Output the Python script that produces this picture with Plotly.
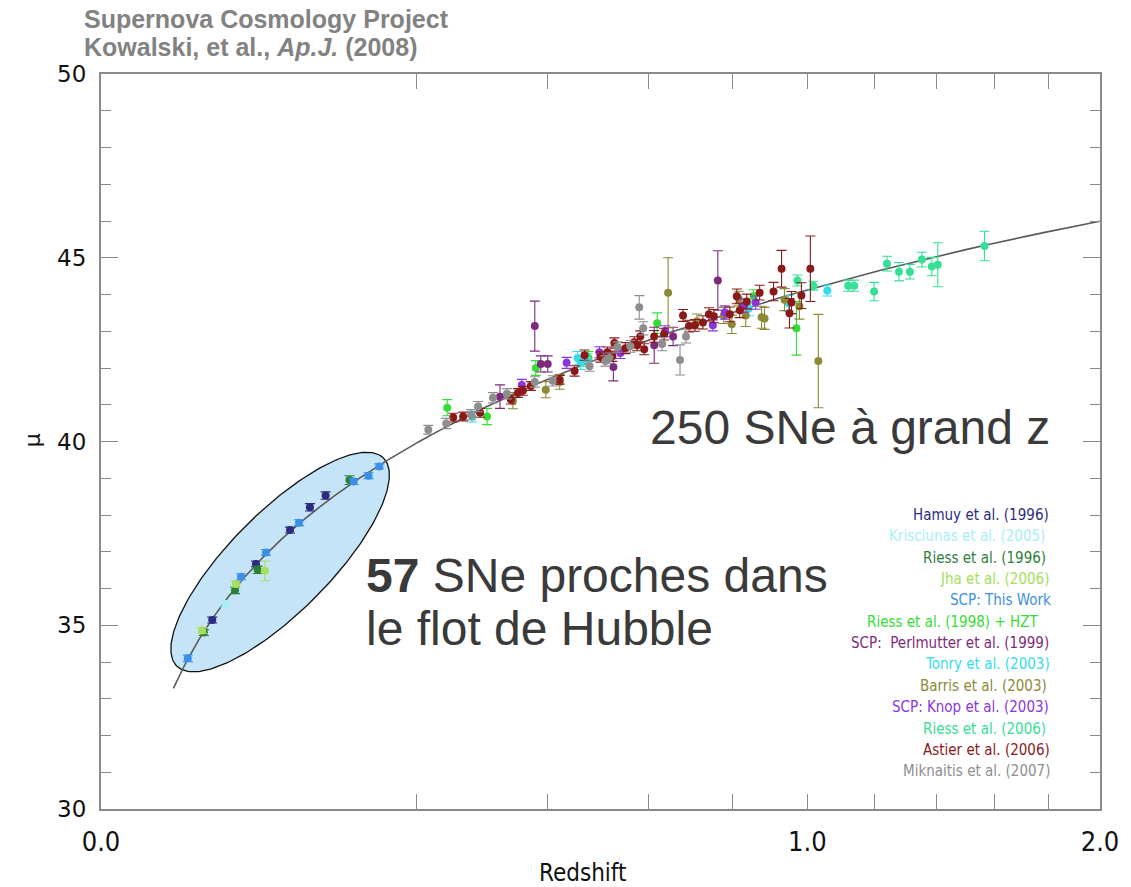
import numpy as np
import plotly.graph_objects as go

# ---------------- Supernova samples: redshift, distance modulus, error ----------------
hamuy_z = [0.0248, 0.0481, 0.0716, 0.0875, 0.1011]
hamuy_mu = [35.14, 36.67, 37.59, 38.21, 38.53]
hamuy_err = [0.08, 0.08, 0.08, 0.10, 0.10]

krisciunas_z = [0.0310]
krisciunas_mu = [35.58]
krisciunas_err = [0.08]

riess96_z = [0.0212, 0.0360, 0.0491, 0.1237]
riess96_mu = [34.80, 35.95, 36.51, 38.95]
riess96_err = [0.08, 0.09, 0.10, 0.12]

jha_z = [0.0205, 0.0365, 0.0538]
jha_mu = [34.86, 36.12, 36.48]
jha_err = [0.08, 0.08, 0.27]

scp_z = [0.0151, 0.0393, 0.0545, 0.0786, 0.1280, 0.1435, 0.1552]
scp_mu = [34.10, 36.32, 36.98, 37.79, 38.91, 39.07, 39.32]
scp_err = [0.09, 0.08, 0.08, 0.08, 0.08, 0.08, 0.07]

riess98_z = [0.2402, 0.2987, 0.3788, 0.4763, 0.6199, 0.8536, 0.9692]
riess98_mu = [40.92, 40.68, 42.00, 42.27, 43.22, 43.95, 43.08]
riess98_err = [0.22, 0.22, 0.20, 0.18, 0.28, 0.18, 0.73]

perlmutter_z = [0.3190, 0.3771, 0.3876, 0.3999, 0.5261, 0.6133, 0.6559, 0.7625]
perlmutter_mu = [41.22, 43.14, 42.11, 42.11, 42.03, 42.62, 42.86, 44.38]
perlmutter_err = [0.32, 0.68, 0.22, 0.22, 0.38, 0.49, 0.25, 0.81]

tonry_z = [0.2760, 0.4551, 0.4609, 0.4743, 0.8407, 0.9472, 1.0572]
tonry_mu = [40.68, 42.27, 42.14, 42.22, 43.62, 43.76, 44.11]
tonry_err = [0.15, 0.18, 0.18, 0.18, 0.20, 0.22, 0.15]

barris_z = [0.3400, 0.3964, 0.4216, 0.6445, 0.7118, 0.7774, 0.7974, 0.8150,
            0.8330, 0.8746, 0.8825, 0.9362, 0.9775, 1.0312]
barris_mu = [41.11, 41.41, 41.62, 44.05, 43.27, 43.43, 43.19, 43.89,
             43.43, 43.38, 43.35, 43.86, 43.68, 42.19]
barris_err = [0.22, 0.22, 0.20, 0.95, 0.20, 0.22, 0.25, 0.20,
              0.30, 0.30, 0.30, 0.30, 0.35, 1.27]

knop_z = [0.3549, 0.4345, 0.4979, 0.5406, 0.6377, 0.7503, 0.7799, 0.8279, 0.8590]
knop_mu = [41.54, 42.14, 42.43, 42.41, 43.00, 43.16, 43.51, 43.70, 43.78]
knop_err = [0.15, 0.15, 0.15, 0.15, 0.15, 0.15, 0.18, 0.18, 0.18]

riess06_z = [0.9720, 1.0170, 1.1188, 1.1368, 1.1977, 1.2381, 1.2760, 1.3113,
             1.3502, 1.3832, 1.4031, 1.5643]
riess06_mu = [44.38, 44.24, 44.24, 44.24, 44.08, 44.84, 44.62, 44.62,
              44.95, 44.76, 44.81, 45.32]
riess06_err = [0.15, 0.12, 0.15, 0.15, 0.25, 0.20, 0.25, 0.20,
               0.20, 0.25, 0.60, 0.40]

astier_z = [0.2486, 0.2628, 0.2880, 0.3367, 0.3483, 0.3566, 0.3702, 0.4216,
            0.4495, 0.4685, 0.4999, 0.5139, 0.5241, 0.5282, 0.5510, 0.5699,
            0.5763, 0.5828, 0.5914, 0.6133, 0.6355, 0.6789, 0.6929, 0.7070,
            0.7261, 0.7406, 0.7527, 0.7923, 0.8100, 0.8176, 0.8356, 0.8694,
            0.9065, 0.9282, 0.9499, 0.9555, 0.9831, 1.0084]
astier_mu = [40.65, 40.68, 40.78, 41.14, 41.32, 41.38, 41.51, 41.68,
             41.92, 42.35, 42.30, 42.43, 42.32, 42.68, 42.54, 42.70,
             42.62, 42.86, 42.51, 42.86, 42.92, 43.43, 43.14, 43.16,
             43.24, 43.46, 43.41, 43.46, 43.95, 43.57, 43.81, 44.05,
             44.08, 44.70, 43.49, 43.78, 43.97, 44.70]
astier_err = [0.12, 0.12, 0.12, 0.12, 0.12, 0.12, 0.12, 0.12,
              0.14, 0.14, 0.14, 0.14, 0.14, 0.14, 0.15, 0.15,
              0.15, 0.15, 0.15, 0.16, 0.16, 0.16, 0.16, 0.16,
              0.18, 0.18, 0.18, 0.20, 0.20, 0.20, 0.20, 0.20,
              0.25, 0.50, 0.40, 0.30, 0.35, 0.89]

miknaitis_z = [0.2147, 0.2389, 0.2745, 0.2849, 0.3079, 0.3302, 0.3771, 0.4089,
               0.4782, 0.5099, 0.5180, 0.5344, 0.5615, 0.5806, 0.5892, 0.6310,
               0.6719, 0.6859]
miknaitis_mu = [40.32, 40.49, 40.73, 40.95, 41.19, 41.30, 41.62, 41.65,
                42.05, 42.19, 42.27, 42.57, 42.59, 43.65, 43.08, 42.65,
                42.22, 42.86]
miknaitis_err = [0.12, 0.14, 0.14, 0.14, 0.14, 0.14, 0.14, 0.14,
                 0.14, 0.14, 0.14, 0.14, 0.16, 0.32, 0.18, 0.18,
                 0.41, 0.18]

legend_labels = [
    "Hamuy et al. (1996)", "Krisciunas et al. (2005)", "Riess et al. (1996)",
    "Jha et al. (2006)", "SCP: This Work", "Riess et al. (1998) + HZT",
    "SCP:  Perlmutter et al. (1999)", "Tonry et al. (2003)", "Barris et al. (2003)",
    "SCP: Knop et al. (2003)", "Riess et al. (2006)", "Astier et al. (2006)",
    "Miknaitis et al. (2007)",
]
legend_colors = [
    "#2b2b80", "#a8eef6", "#2e7d3a", "#a4e05a", "#3a90e6", "#35dd35",
    "#7d2a7d", "#35dcec", "#8c8a36", "#8a35de", "#35e096", "#8a1a1a", "#8e8e8e",
]

samples = [
    (hamuy_z, hamuy_mu, hamuy_err),
    (krisciunas_z, krisciunas_mu, krisciunas_err),
    (riess96_z, riess96_mu, riess96_err),
    (jha_z, jha_mu, jha_err),
    (scp_z, scp_mu, scp_err),
    (riess98_z, riess98_mu, riess98_err),
    (perlmutter_z, perlmutter_mu, perlmutter_err),
    (tonry_z, tonry_mu, tonry_err),
    (barris_z, barris_mu, barris_err),
    (knop_z, knop_mu, knop_err),
    (riess06_z, riess06_mu, riess06_err),
    (astier_z, astier_mu, astier_err),
    (miknaitis_z, miknaitis_mu, miknaitis_err),
]

# ---------------- best-fit flat LambdaCDM model ----------------
OMEGA_M = 0.28
H0 = 70.0
C_KMS = 299792.458
Z_MIN_CURVE = 0.0104
zg = np.linspace(0.0, 2.0, 8001)
inv_e = 1.0 / np.sqrt(OMEGA_M * (1 + zg) ** 3 + (1 - OMEGA_M))
dc = np.concatenate([[0.0], np.cumsum(0.5 * (inv_e[1:] + inv_e[:-1]) * np.diff(zg))])
dc *= C_KMS / H0                       # comoving distance, Mpc
keep = zg >= Z_MIN_CURVE
z_model = zg[keep]
mu_model = 5 * np.log10((1 + z_model) * dc[keep]) + 25

# ---------------- figure geometry ----------------
W, H = 1131, 887
L, R, T, B = 101, 1105, 74, 809
X_RANGE = (0.0, np.sqrt(2.0))          # axis runs in sqrt(redshift)
Y_RANGE = (30.0, 50.0)
px_x = (R - L) / (X_RANGE[1] - X_RANGE[0])
px_y = (B - T) / (Y_RANGE[1] - Y_RANGE[0])


def px_to_paper(px, py):
    return (px - L) / (R - L), (B - py) / (B - T)


fig = go.Figure()

# shaded ellipse around the nearby Hubble-flow sample
ell_z, ell_mu = 0.0643, 36.72
ell_a, ell_b = 147.0, 50.0             # semi-axes in pixels, tilted 45 degrees
t = np.linspace(0, 2 * np.pi, 241)
c45 = np.cos(np.pi / 4)
dx_px = ell_a * np.cos(t) * c45 + ell_b * np.sin(t) * c45
dy_px = -ell_a * np.cos(t) * c45 + ell_b * np.sin(t) * c45
fig.add_trace(go.Scatter(
    x=np.sqrt(ell_z) + dx_px / px_x,
    y=ell_mu - dy_px / px_y,
    mode="lines", fill="toself", fillcolor="#c6e4f8",
    line=dict(color="#111111", width=1.3),
    hoverinfo="skip", showlegend=False,
))

# model curve
fig.add_trace(go.Scatter(
    x=np.sqrt(z_model), y=mu_model, mode="lines",
    line=dict(color="#5a5a5a", width=1.6),
    hoverinfo="skip", showlegend=False,
))

# supernova samples with error bars
for (zs, mus, errs), name, col in zip(samples, legend_labels, legend_colors):
    fig.add_trace(go.Scatter(
        x=np.sqrt(np.array(zs)), y=mus, mode="markers", name=name,
        marker=dict(color=col, size=8, line=dict(width=0)),
        error_y=dict(type="data", array=errs, color=col, thickness=1.1, width=5),
        customdata=zs,
        hovertemplate="z=%{customdata:.3f}<br>μ=%{y:.2f}<extra>" + name + "</extra>",
        showlegend=False,
    ))

annotations = []

# header
head_font = dict(family="Liberation Sans, Arial, sans-serif", size=25, color="#828282")
hx, hy = px_to_paper(82, 19)
annotations.append(dict(
    x=hx, y=hy, xref="paper", yref="paper", xanchor="left", yanchor="middle",
    text="<b>Supernova Cosmology Project</b>", showarrow=False, font=head_font,
))
hx, hy = px_to_paper(82, 47)
annotations.append(dict(
    x=hx, y=hy, xref="paper", yref="paper", xanchor="left", yanchor="middle",
    text="<b>Kowalski, et al., <i>Ap.J.</i> (2008)</b>", showarrow=False, font=head_font,
))

# slide captions
cap_font = dict(family="Liberation Sans, Arial, sans-serif", size=48, color="#3a3a3a")
ax_, ay_ = px_to_paper(651, 427)
annotations.append(dict(
    x=ax_, y=ay_, xref="paper", yref="paper", xanchor="left", yanchor="middle",
    text="250 SNe à grand z", showarrow=False, font=cap_font,
))
ax_, ay_ = px_to_paper(365, 575)
annotations.append(dict(
    x=ax_, y=ay_, xref="paper", yref="paper", xanchor="left", yanchor="middle",
    text="<b>57</b> SNe proches dans", showarrow=False, font=cap_font,
))
ax_, ay_ = px_to_paper(365, 628)
annotations.append(dict(
    x=ax_, y=ay_, xref="paper", yref="paper", xanchor="left", yanchor="middle",
    text="le flot de Hubble", showarrow=False, font=cap_font,
))

# colour key (text only)
key_right = [1056, 1052, 1053, 1056, 1058, 1045, 1056, 1057, 1054, 1056, 1053, 1057, 1057]
for i, (lab, col) in enumerate(zip(legend_labels, legend_colors)):
    kx, ky = px_to_paper(key_right[i], 515 + i * 21.35)
    annotations.append(dict(
        x=kx, y=ky, xref="paper", yref="paper", xanchor="right", yanchor="middle",
        text=lab, showarrow=False,
        font=dict(family="DejaVu Sans Condensed, DejaVu Sans, sans-serif", size=15, color=col),
    ))

# y-axis symbol
mx, my = px_to_paper(32, 440)
annotations.append(dict(
    x=mx, y=my, xref="paper", yref="paper", xanchor="center", yanchor="middle",
    text="μ", textangle=-90, showarrow=False,
    font=dict(family="DejaVu Sans, sans-serif", size=22, color="#111111"),
))
# x-axis title
rx, ry = px_to_paper(585, 873)
annotations.append(dict(
    x=rx, y=ry, xref="paper", yref="paper", xanchor="center", yanchor="middle",
    text="Redshift", showarrow=False,
    font=dict(family="DejaVu Sans Condensed, DejaVu Sans, sans-serif", size=24, color="#111111"),
))

axis_col = "#8a8a8a"
x_major = [0.0, 1.0, 2.0]
x_minor = [0.2, 0.4, 0.6, 0.8, 1.2, 1.4, 1.6, 1.8]

fig.update_layout(
    width=W, height=H,
    margin=dict(l=L, r=W - R, t=T, b=H - B, pad=0),
    paper_bgcolor="white", plot_bgcolor="white",
    showlegend=False,
    annotations=annotations,
    xaxis=dict(
        range=list(X_RANGE), showgrid=False, zeroline=False,
        showline=True, linecolor=axis_col, linewidth=2, mirror="allticks",
        tickmode="array", tickvals=list(np.sqrt(x_major)),
        ticktext=[f"{v:.1f}" for v in x_major],
        ticks="inside", ticklen=15, tickwidth=1, tickcolor=axis_col,
        ticklabelstandoff=8,
        tickfont=dict(family="DejaVu Sans Condensed, DejaVu Sans, sans-serif", size=27, color="#111111"),
        minor=dict(tickmode="array", tickvals=list(np.sqrt(x_minor)),
                   ticks="inside", ticklen=15, tickwidth=1, tickcolor=axis_col, showgrid=False),
    ),
    yaxis=dict(
        range=list(Y_RANGE), showgrid=False, zeroline=False,
        showline=True, linecolor=axis_col, linewidth=2, mirror="allticks",
        tickmode="linear", tick0=30, dtick=5,
        ticks="inside", ticklen=17, tickwidth=1, tickcolor=axis_col,
        ticklabelstandoff=8,
        tickfont=dict(family="DejaVu Sans, sans-serif", size=23, color="#111111"),
        minor=dict(dtick=1, ticks="inside", ticklen=10, tickwidth=1,
                   tickcolor=axis_col, showgrid=False),
    ),
)

fig.write_html("out.html")
